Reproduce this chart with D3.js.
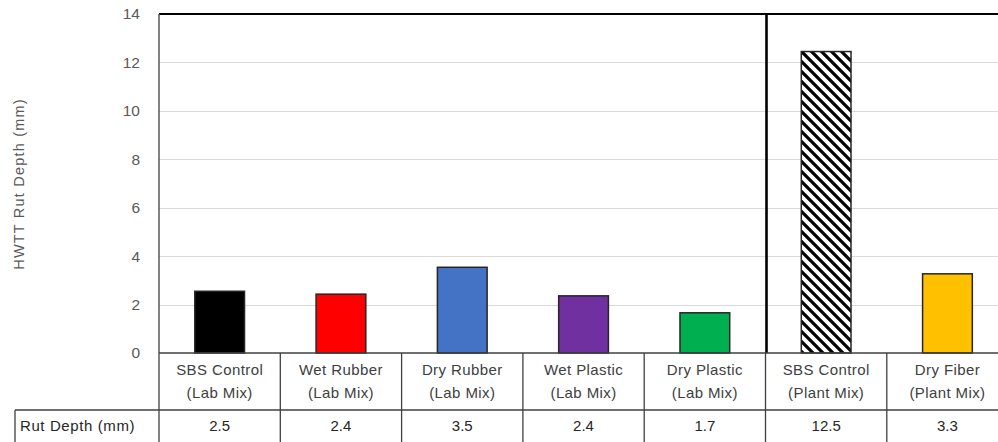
<!DOCTYPE html>
<html>
<head>
<meta charset="utf-8">
<script src="https://cdn.jsdelivr.net/npm/d3@7"></script>
<style>
  body { margin: 0; background: #fff; }
  svg { display: block; font-family: "Liberation Sans", Arial, sans-serif; }
</style>
</head>
<body>
<svg id="chart" width="998" height="442"></svg>
<script>
// data
var categories = ['SBS Control|(Lab Mix)', 'Wet Rubber|(Lab Mix)', 'Dry Rubber|(Lab Mix)',
  'Wet Plastic|(Lab Mix)', 'Dry Plastic|(Lab Mix)', 'SBS Control|(Plant Mix)', 'Dry Fiber|(Plant Mix)']
var rutDepth = [2.55, 2.43, 3.54, 2.36, 1.66, 12.45, 3.27]
var tableLabels = ['2.5', '2.4', '3.5', '2.4', '1.7', '12.5', '3.3']
var barColors = ['#000000', '#ff0000', '#4472c4', '#7030a0', '#00b050', 'url(#hatch)', '#ffc000']
var yTicks = [0, 2, 4, 6, 8, 10, 12, 14]

var svg = d3.select('#chart')
var margin = {left: 159, top: 14, bottom: 353}
var bandW = 121.3

var x = d3.scaleBand().domain(categories)
  .range([margin.left, margin.left + bandW * categories.length]).padding(0)
var y = d3.scaleLinear().domain([0, 14]).range([margin.bottom, margin.top])

// hatch pattern for the plant mix control
var pat = svg.append('defs').append('pattern')
  .attr('id', 'hatch').attr('patternUnits', 'userSpaceOnUse')
  .attr('width', 10).attr('height', 10)
pat.append('rect').attr('width', 10).attr('height', 10).attr('fill', '#fff')
pat.append('path').attr('d', 'M-2,-2L12,12M-12,-2L2,12M8,-2L22,12')
  .attr('stroke', '#000').attr('stroke-width', 3.2)

// gridlines
svg.append('g').selectAll('line').data(yTicks.slice(1, -1)).join('line')
  .attr('x1', margin.left).attr('x2', 998)
  .attr('y1', function(d){ return Math.round(y(d)) + 0.5 })
  .attr('y2', function(d){ return Math.round(y(d)) + 0.5 })
  .attr('stroke', '#d9d9d9').attr('stroke-width', 1.2)

// y axis labels
var yAxis = svg.append('g').attr('transform', 'translate(' + margin.left + ',0)')
  .call(d3.axisLeft(y).tickValues(yTicks).tickSize(0).tickPadding(19))
yAxis.select('.domain').remove()
yAxis.selectAll('text').attr('fill', '#595959').attr('font-size', 15.5)
  .attr('font-family', '"Liberation Sans", Arial, sans-serif')

svg.append('text')
  .attr('transform', 'translate(24,184) rotate(-90)')
  .attr('text-anchor', 'middle')
  .attr('fill', '#595959').attr('font-size', 14.5).attr('letter-spacing', 1.2)
  .text('HWTT Rut Depth (mm)')

// bars
var barW = bandW * 0.41
svg.append('g').selectAll('rect').data(rutDepth).join('rect')
  .attr('x', function(d, i){ return x(categories[i]) + (bandW - barW) / 2 })
  .attr('y', function(d){ return y(d) })
  .attr('width', barW)
  .attr('height', function(d){ return y(0) - y(d) })
  .attr('fill', function(d, i){ return barColors[i] })
  .attr('stroke', '#262626').attr('stroke-width', 1.5)

// frame: top border, left border, lab/plant separator
svg.append('line').attr('x1', margin.left).attr('x2', 998)
  .attr('y1', margin.top).attr('y2', margin.top)
  .attr('stroke', '#000').attr('stroke-width', 2)
svg.append('line').attr('x1', margin.left).attr('x2', margin.left)
  .attr('y1', margin.top).attr('y2', 442)
  .attr('stroke', '#404040').attr('stroke-width', 1.3)
svg.append('line')
  .attr('x1', x(categories[5]) + 1).attr('x2', x(categories[5]) + 1)
  .attr('y1', margin.top).attr('y2', y(0))
  .attr('stroke', '#000').attr('stroke-width', 2.6)

// data table under the axis
var rowTop = y(0), rowMid = 410, tableLeft = 15
var tbl = svg.append('g').attr('stroke', '#404040').attr('stroke-width', 1.3)
tbl.append('line').attr('x1', margin.left).attr('x2', 998).attr('y1', rowTop).attr('y2', rowTop)
tbl.append('line').attr('x1', tableLeft).attr('x2', 998).attr('y1', rowMid).attr('y2', rowMid)
tbl.append('line').attr('x1', tableLeft).attr('x2', tableLeft).attr('y1', rowMid).attr('y2', 442)
tbl.selectAll('.sep').data(categories.slice(1)).join('line')
  .attr('class', 'sep')
  .attr('x1', function(d){ return x(d) }).attr('x2', function(d){ return x(d) })
  .attr('y1', rowTop).attr('y2', 442)

var cat = svg.append('g').selectAll('text').data(categories).join('text')
  .attr('text-anchor', 'middle').attr('fill', '#404040').attr('font-size', 15)
  .attr('letter-spacing', 0.4)
cat.selectAll('tspan').data(function(d){ return d.split('|').map(function(t){ return {t: t, c: d} }) })
  .join('tspan')
  .attr('x', function(d){ return x(d.c) + bandW / 2 })
  .attr('y', function(d, i){ return 375 + i * 23 })
  .text(function(d){ return d.t })

svg.append('g').selectAll('text').data(tableLabels).join('text')
  .attr('x', function(d, i){ return x(categories[i]) + bandW / 2 })
  .attr('y', 431)
  .attr('text-anchor', 'middle').attr('fill', '#262626').attr('font-size', 15)
  .text(function(d){ return d })

svg.append('text').attr('x', 20).attr('y', 431)
  .attr('fill', '#262626').attr('font-size', 15).attr('letter-spacing', 0.6)
  .text('Rut Depth (mm)')
</script>
</body>
</html>
